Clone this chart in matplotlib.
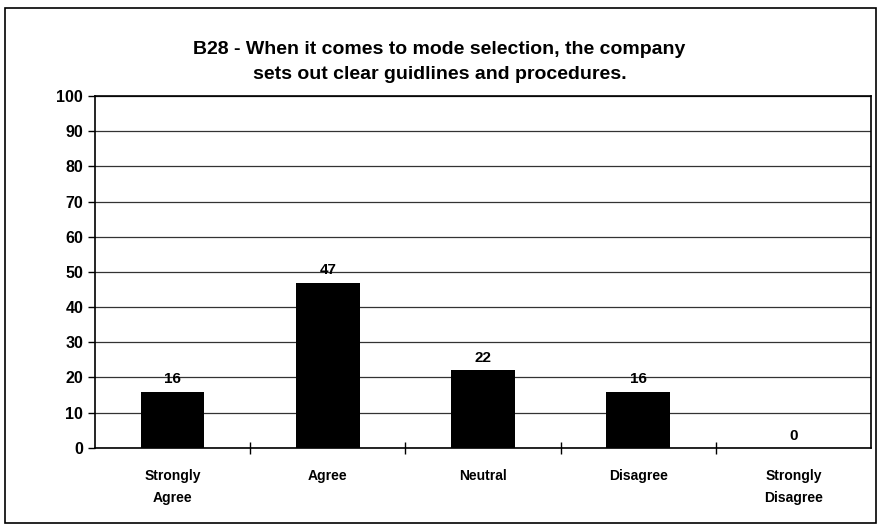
import matplotlib.pyplot as plt
from matplotlib.patches import Rectangle
import numpy as np

categories = ["Strongly\nAgree", "Agree", "Neutral", "Disagree", "Strongly\nDisagree"]
values = [16, 47, 22, 16, 0]
title = "B28 - When it comes to mode selection, the company\nsets out clear guidlines and procedures."

plt.rcParams['font.family'] = ['Liberation Sans', 'DejaVu Sans']

fig = plt.figure(figsize=(8.79, 5.25), dpi=100)
ax = fig.add_axes([0.108, 0.147, 0.883, 0.670])

x = np.arange(len(categories))
ax.bar(x, values, width=0.41, color='black', zorder=3)
for xi, v in zip(x, values):
    ax.text(xi, v + 1.5, str(v), ha='center', va='bottom', fontsize=11, fontweight='bold', zorder=4)

ax.set_xlim(-0.5, len(categories) - 0.5)
ax.set_ylim(0, 100)
ax.set_yticks(range(0, 101, 10))
ax.yaxis.grid(True, color='#333333', linewidth=0.9, zorder=0)
ax.tick_params(axis='y', direction='out', length=5, labelsize=11.5, width=1)
for lbl in ax.get_yticklabels():
    lbl.set_fontweight('bold')

# category labels between boundary ticks
ax.set_xticks(x)
ax.set_xticklabels(categories, fontsize=10, fontweight='bold', linespacing=1.75)
ax.tick_params(axis='x', length=0, pad=15)
ax.set_xticks(np.arange(0.5, len(categories) - 0.5, 1), minor=True)
ax.tick_params(axis='x', which='minor', direction='inout', length=8, width=1)

for s in ax.spines.values():
    s.set_linewidth(1.2)

fig.text(0.5, 0.882, title, ha='center', va='center', fontsize=14, fontweight='bold', linespacing=1.6)

fig.patches.append(Rectangle((5 / 879, 2 / 525), 871 / 879, 515 / 525, transform=fig.transFigure,
                             fill=False, edgecolor='black', linewidth=1.2))

fig.savefig("out.png", dpi=100)
